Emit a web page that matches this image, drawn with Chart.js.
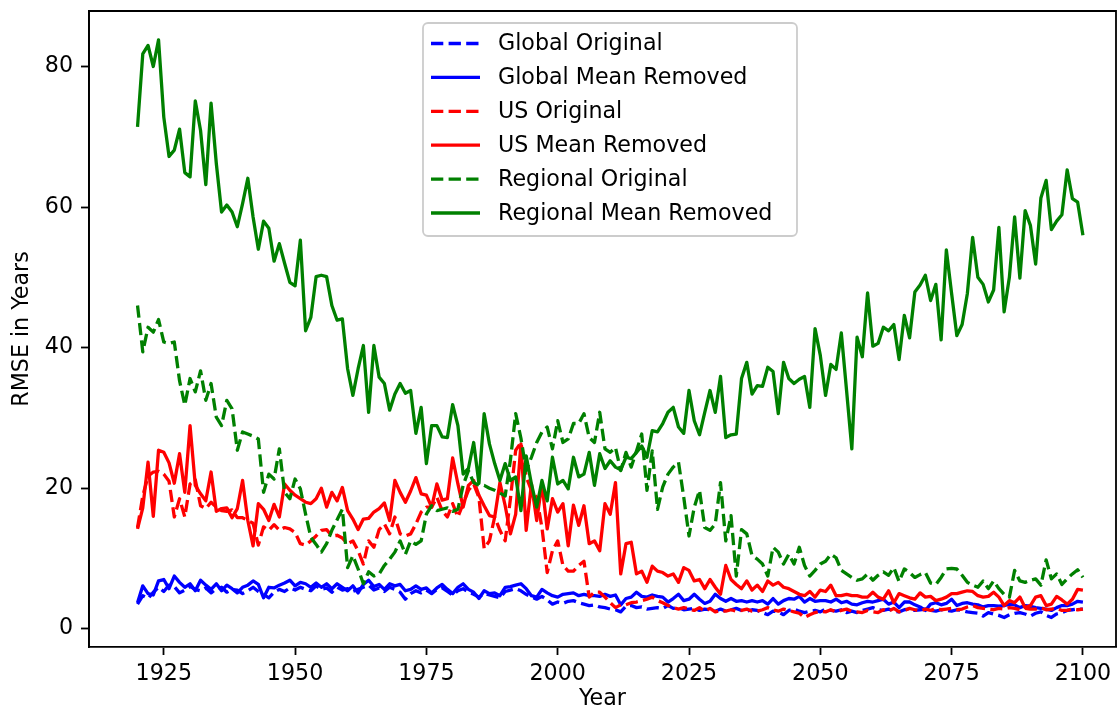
<!DOCTYPE html>
<html>
<head>
<meta charset="utf-8">
<script src="https://cdn.jsdelivr.net/npm/chart.js"></script>
<style>
  html, body { margin: 0; padding: 0; background: #fff; overflow: hidden; }
  canvas { display: block; }
</style>
</head>
<body>
<canvas id="chart" width="1117" height="713"></canvas>
<script>
// yearly values, 1920..2100 (one row per decade)
const years = [];
for (let y = 1920; y <= 2100; y++) years.push(y);

const xTicks = [1925, 1950, 1975, 2000, 2025, 2050, 2075, 2100];
const yTicks = [0, 20, 40, 60, 80];

const globalOriginal = [
  3.5, 4.7, 4.3, 5.2, 5.9, 5.3, 6.2, 6.0, 5.1, 5.5,
  6.0, 5.6, 5.4, 5.8, 5.1, 5.7, 5.9, 5.2, 5.6, 5.5,
  5.0, 5.4, 5.9, 5.3, 4.9, 4.4, 5.2, 5.6, 5.3, 5.8,
  5.5, 5.9, 5.6, 5.4, 6.1, 5.6, 5.8, 5.2, 5.9, 5.5,
  5.7, 5.3, 5.6, 5.9, 6.2, 5.5, 5.8, 5.3, 5.9, 5.6,
  5.2, 4.2, 5.0, 5.4, 5.1, 5.5, 5.0, 5.6, 5.8, 5.3,
  4.8, 5.4, 5.7, 5.2, 4.9, 4.5, 5.0, 4.8, 4.6, 4.4,
  5.3, 5.5, 5.7, 5.4, 4.9, 4.5, 4.2, 4.6, 4.1, 3.5,
  3.8, 3.6, 3.9, 4.0, 3.7, 3.5, 3.3, 3.4, 3.1, 3.0,
  2.8, 2.7, 2.4, 3.2, 3.3, 3.0, 3.1, 2.8, 2.9, 3.0,
  2.9, 3.3, 2.9, 3.0, 2.7, 2.8, 2.9, 2.6, 2.8, 2.7,
  2.5, 2.8, 2.5, 2.7, 2.9, 2.6, 2.5, 2.7, 2.6, 2.3,
  2.0, 2.5, 2.4, 2.0, 2.6, 2.8, 2.5, 2.3, 2.5, 2.6,
  2.4, 2.8, 2.6, 2.5, 2.7, 2.3, 2.5, 2.3, 2.6, 2.8,
  3.0, 2.7, 2.6, 2.8, 2.5, 2.4, 2.7, 2.8, 2.6, 2.7,
  2.8, 2.6, 2.5, 2.7, 2.6, 2.5, 2.7, 2.6, 2.4, 2.3,
  2.2, 1.8, 2.3, 2.1, 1.9, 1.6, 2.0, 2.2, 2.3, 2.1,
  1.8, 2.2, 2.4, 1.9, 1.6, 2.1, 2.3, 2.6, 2.7, 2.8,
  2.8
];

const globalMeanRemoved = [
  3.7, 6.1, 5.0, 4.8, 6.8, 7.0, 5.7, 7.5, 6.6, 5.9,
  6.4, 5.4, 6.9, 6.2, 5.6, 6.4, 5.4, 6.2, 5.7, 5.1,
  5.9, 6.2, 6.8, 6.3, 4.4, 5.9, 5.8, 6.2, 6.5, 6.9,
  6.1, 6.6, 6.4, 5.9, 6.5, 5.9, 6.4, 5.7, 6.4, 5.9,
  5.4, 6.1, 5.1, 6.3, 6.9, 6.0, 6.3, 5.6, 6.4, 6.1,
  6.3, 5.4, 5.6, 6.1, 5.6, 5.8, 5.1, 5.8, 6.3, 5.6,
  5.0, 5.9, 6.4, 5.6, 5.2, 4.3, 5.4, 5.0, 5.1, 4.7,
  5.9, 6.0, 6.2, 6.4, 5.7, 4.7, 4.5, 5.6, 5.1, 4.7,
  4.5, 4.9, 5.0, 5.1, 4.7, 4.9, 4.7, 4.7, 4.6, 4.9,
  4.6, 4.8, 3.4, 4.3, 4.5, 5.2, 4.6, 4.5, 4.8, 4.6,
  4.5, 3.8, 4.3, 4.9, 4.0, 4.2, 4.9, 4.2, 3.6, 3.9,
  4.9, 4.3, 3.9, 4.3, 3.9, 4.0, 3.8, 4.0, 3.8, 4.0,
  3.5, 4.3, 3.5, 4.0, 4.3, 4.2, 4.6, 3.8, 4.3, 3.9,
  4.0, 4.0, 3.8, 4.2, 3.7, 3.9, 3.5, 3.4, 3.7, 3.9,
  3.8, 4.0, 4.2, 3.5, 3.8, 3.0, 3.8, 3.8, 3.4, 3.1,
  2.6, 3.5, 3.7, 3.4, 3.6, 4.2, 3.3, 3.6, 3.7, 3.5,
  3.4, 3.1, 3.3, 3.3, 3.2, 3.3, 3.5, 3.4, 3.0, 3.3,
  3.2, 3.0, 2.9, 2.8, 2.6, 3.0, 3.3, 3.3, 3.5, 3.9,
  3.8
];

const usOriginal = [
  14.4, 18.9, 21.7, 22.3, 22.4, 22.0, 21.0, 15.9, 18.5, 15.9,
  20.6, 21.2, 17.5, 17.1, 18.0, 17.3, 16.8, 16.7, 16.9, 15.8,
  15.8, 15.4, 15.0, 11.9, 14.5, 14.0, 14.8, 14.0, 14.4, 14.2,
  13.7, 12.1, 11.9, 12.5, 13.2, 14.0, 14.1, 13.2, 13.3, 12.9,
  12.1, 12.5, 11.1, 9.2, 12.5, 11.6, 14.1, 14.9, 13.5, 15.9,
  13.5, 13.2, 13.5, 14.9, 16.6, 17.3, 17.3, 18.7, 16.8, 15.9,
  17.8, 15.9, 17.8, 19.7, 20.6, 18.7, 11.4, 12.5, 15.9, 14.0,
  12.5, 18.5, 25.4, 26.5, 21.6, 19.7, 18.7, 14.4, 8.0, 11.1,
  12.5, 9.0, 8.2, 8.2, 9.0, 9.6, 4.5, 5.2, 5.2, 4.5,
  3.7, 3.0, 3.4, 3.4, 3.7, 3.8, 4.0, 4.2, 4.5, 4.0,
  3.7, 3.3, 3.0, 2.8, 3.0, 2.8, 2.6, 3.0, 2.5, 2.9,
  2.4, 2.6, 2.5, 2.7, 2.5, 2.6, 2.8, 2.5, 2.5, 2.7,
  3.0, 2.7, 2.5, 2.8, 2.6, 2.4, 2.2, 1.6, 2.0, 2.3,
  2.5, 2.4, 2.7, 2.4, 2.6, 2.8, 2.5, 2.4, 2.3, 2.6,
  2.4, 2.3, 2.7, 2.5, 2.9, 2.4, 2.6, 2.9, 2.7, 2.5,
  2.8, 2.6, 2.9, 2.7, 2.8, 2.9, 2.7, 2.8, 3.1, 3.3,
  3.0, 2.9, 2.8, 2.7, 2.9, 2.8, 3.0, 2.9, 2.7, 2.9,
  2.8, 2.8, 3.0, 2.7, 2.8, 2.9, 2.6, 2.6, 2.8, 2.7,
  2.8
];

const usMeanRemoved = [
  14.2, 17.2, 23.7, 16.0, 25.4, 25.1, 23.6, 20.7, 24.9, 19.4,
  28.9, 20.4, 19.2, 18.2, 22.3, 16.7, 17.1, 17.2, 15.8, 17.1,
  21.1, 15.4, 11.8, 17.8, 17.0, 15.4, 17.7, 15.9, 20.6, 19.7,
  19.0, 18.5, 18.0, 17.8, 18.5, 20.0, 17.3, 19.4, 18.2, 20.1,
  16.8, 15.6, 14.1, 15.6, 15.7, 16.6, 17.1, 17.9, 15.4, 21.1,
  19.4, 18.0, 19.6, 21.5, 19.2, 19.0, 17.3, 20.6, 18.3, 18.5,
  24.3, 20.6, 17.3, 20.4, 21.1, 19.0, 17.5, 16.1, 15.9, 20.8,
  17.5, 13.5, 16.3, 26.3, 14.0, 20.6, 15.4, 20.6, 14.2, 18.5,
  16.6, 17.8, 11.8, 17.6, 14.7, 17.5, 12.1, 12.5, 11.1, 17.8,
  16.3, 20.8, 7.8, 12.1, 12.3, 7.8, 8.2, 6.6, 8.9, 8.2,
  8.0, 7.5, 7.8, 6.6, 8.7, 8.3, 6.8, 7.0, 5.7, 7.0,
  5.9, 4.9, 9.0, 7.0, 6.3, 5.7, 6.8, 5.5, 6.2, 5.3,
  6.8, 6.2, 6.6, 5.9, 5.7, 5.3, 4.9, 4.7, 5.3, 4.5,
  5.5, 5.3, 6.2, 4.7, 4.7, 4.9, 4.7, 4.7, 4.5, 4.5,
  5.2, 4.5, 4.2, 5.4, 3.7, 5.0, 4.7, 4.4, 4.2, 5.1,
  4.5, 4.6, 4.0, 4.2, 4.5, 5.0, 5.0, 5.2, 5.4, 5.3,
  4.7, 4.5, 4.6, 5.2, 4.5, 3.3, 4.0, 3.7, 4.5, 3.0,
  3.3, 4.5, 4.7, 3.3, 3.5, 4.6, 4.1, 3.5, 4.2, 5.6,
  5.5
];

const regionalOriginal = [
  46.0, 39.4, 42.9, 42.2, 44.0, 40.8, 40.6, 40.8, 35.3, 31.8,
  35.6, 33.7, 36.7, 32.5, 34.9, 30.1, 28.9, 32.5, 31.3, 25.4,
  28.0, 27.7, 27.4, 27.0, 19.4, 22.0, 21.3, 25.6, 19.4, 18.5,
  21.3, 19.9, 16.3, 13.0, 12.0, 10.9, 12.1, 14.0, 15.5, 17.0,
  8.7, 10.4, 8.5, 6.4, 8.1, 7.5, 7.8, 9.0, 9.9, 10.9,
  12.5, 10.6, 12.5, 12.0, 12.5, 16.3, 17.5, 16.8, 17.0, 17.2,
  16.7, 17.0, 20.4, 22.5, 20.8, 20.4, 20.4, 20.0, 19.7, 19.3,
  18.9, 24.0, 30.6, 27.1, 22.5, 24.4, 26.5, 28.0, 28.7, 25.6,
  29.6, 26.5, 27.0, 29.2, 29.2, 30.6, 27.2, 26.5, 30.8, 25.6,
  25.1, 25.8, 22.5, 25.1, 23.0, 25.3, 27.7, 19.7, 25.3, 17.0,
  20.2, 22.0, 23.0, 23.7, 18.7, 13.2, 17.3, 19.7, 14.4, 14.0,
  14.9, 20.8, 12.5, 16.1, 7.5, 14.1, 13.5, 10.4, 9.9, 9.2,
  7.5, 11.6, 10.9, 9.2, 10.6, 9.2, 11.6, 9.0, 7.5, 8.3,
  9.2, 9.6, 10.6, 10.1, 8.3, 7.8, 7.3, 6.9, 7.1, 7.8,
  6.9, 7.6, 8.1, 7.6, 8.7, 6.7, 8.5, 8.0, 7.3, 7.7,
  8.0, 6.5, 6.3, 7.3, 8.5, 8.6, 8.5, 7.6, 6.6, 6.2,
  5.9, 6.8, 5.7, 6.8, 5.7, 4.9, 4.5, 8.3, 6.8, 6.6,
  6.9, 7.1, 6.2, 9.8, 7.1, 7.8, 6.3, 7.1, 7.8, 8.4,
  7.3
];

const regionalMeanRemoved = [
  71.4, 81.8, 83.0, 80.0, 83.8, 72.8, 67.2, 68.1, 71.1, 64.9,
  64.3, 75.1, 70.9, 63.2, 74.8, 66.2, 59.3, 60.3, 59.3, 57.2,
  60.5, 64.1, 58.6, 54.0, 58.0, 57.0, 52.3, 54.8, 52.0, 49.3,
  48.8, 55.3, 42.4, 44.3, 50.1, 50.3, 50.1, 46.0, 43.9, 44.1,
  37.0, 33.2, 37.0, 40.3, 30.8, 40.3, 35.8, 34.9, 31.1, 33.4,
  34.9, 33.5, 33.9, 27.8, 31.5, 23.5, 28.9, 28.9, 27.3, 27.2,
  31.9, 28.9, 22.0, 22.8, 26.5, 20.7, 30.6, 26.3, 23.5, 21.1,
  23.5, 21.1, 21.6, 16.8, 24.6, 20.6, 17.3, 21.1, 18.2, 24.4,
  20.6, 21.1, 19.9, 24.4, 21.6, 22.0, 25.1, 20.4, 24.9, 22.8,
  23.9, 23.0, 22.6, 24.4, 24.2, 25.1, 26.0, 24.4, 28.2, 28.0,
  29.2, 30.8, 31.5, 28.7, 27.8, 33.9, 29.6, 27.6, 30.8, 33.9,
  30.8, 35.9, 27.2, 27.6, 27.7, 35.6, 37.9, 33.4, 34.6, 34.5,
  37.2, 36.6, 30.6, 37.9, 35.6, 34.9, 35.5, 35.9, 31.5, 42.7,
  38.9, 33.2, 37.6, 36.9, 42.1, 33.9, 25.6, 41.5, 38.7, 47.8,
  40.2, 40.6, 42.9, 42.4, 43.3, 38.3, 44.6, 41.4, 47.9, 48.9,
  50.3, 46.7, 49.0, 41.1, 53.9, 47.7, 41.7, 43.3, 47.7, 55.7,
  50.0, 49.0, 46.5, 48.2, 57.1, 45.1, 50.0, 58.6, 49.9, 59.5,
  57.4, 51.9, 61.3, 63.8, 56.8, 58.0, 58.9, 65.3, 61.2, 60.7,
  56.0
];

const FONT = '"DejaVu Sans", sans-serif';
const FONT_SIZE = 22.2;
const LINE_W = 3.3;
const DASH = [12.3, 5.3];

function makeSeries(label, values, color, dashed, order) {
    return {
        label: label,
        data: years.map((yr, i) => ({ x: yr, y: values[i] })),
        borderColor: color,
        backgroundColor: color,
        borderWidth: LINE_W,
        borderDash: dashed ? DASH : [],
        borderJoinStyle: 'round',
        pointRadius: 0,
        fill: false,
        tension: 0,
        order: order
    };
}

const datasets = [
    makeSeries('Global Original', globalOriginal, '#0000ff', true, 6),
    makeSeries('Global Mean Removed', globalMeanRemoved, '#0000ff', false, 5),
    makeSeries('US Original', usOriginal, '#ff0000', true, 4),
    makeSeries('US Mean Removed', usMeanRemoved, '#ff0000', false, 3),
    makeSeries('Regional Original', regionalOriginal, '#008000', true, 2),
    makeSeries('Regional Mean Removed', regionalMeanRemoved, '#008000', false, 1)
];

// matplotlib-like frame around the axes plus an inset legend box
const framePlugin = {
    id: 'frame',
    afterDraw(chart) {
        const { ctx, chartArea: a } = chart;
        ctx.save();
        ctx.strokeStyle = '#000';
        ctx.lineWidth = 1.8;
        ctx.beginPath();
        ctx.moveTo(a.left, a.bottom);
        ctx.lineTo(a.left, a.top);
        ctx.lineTo(a.right, a.top);
        ctx.lineTo(a.right, a.bottom);
        ctx.stroke();

        // legend
        const bx = 423, by = 23, bw = 374, bh = 213, r = 5;
        ctx.beginPath();
        ctx.moveTo(bx + r, by);
        ctx.arcTo(bx + bw, by, bx + bw, by + bh, r);
        ctx.arcTo(bx + bw, by + bh, bx, by + bh, r);
        ctx.arcTo(bx, by + bh, bx, by, r);
        ctx.arcTo(bx, by, bx + bw, by, r);
        ctx.closePath();
        ctx.fillStyle = 'rgba(255,255,255,0.8)';
        ctx.fill();
        ctx.strokeStyle = '#cccccc';
        ctx.lineWidth = 1.8;
        ctx.stroke();

        ctx.font = FONT_SIZE + 'px ' + FONT;
        ctx.textBaseline = 'middle';
        ctx.textAlign = 'left';
        chart.data.datasets.forEach((ds, i) => {
            const cy = by + 20.5 + i * 33.9;
            ctx.strokeStyle = ds.borderColor;
            ctx.lineWidth = LINE_W;
            ctx.setLineDash(ds.borderDash);
            ctx.beginPath();
            ctx.moveTo(431, cy);
            ctx.lineTo(480, cy);
            ctx.stroke();
            ctx.setLineDash([]);
            ctx.fillStyle = '#000';
            ctx.fillText(ds.label, 498, cy + 1);
        });
        ctx.restore();
    }
};

const tickFont = { family: FONT, size: FONT_SIZE };

new Chart(document.getElementById('chart').getContext('2d'), {
    type: 'line',
    data: { datasets: datasets },
    options: {
        responsive: false,
        animation: false,
        devicePixelRatio: 1,
        layout: { padding: { top: 11, right: 1, left: 0, bottom: 0 } },
        plugins: {
            legend: { display: false },
            tooltip: { enabled: false }
        },
        scales: {
            x: {
                type: 'linear',
                min: 1910.76,
                max: 2106.3,
                afterBuildTicks: (axis) => { axis.ticks = xTicks.map(v => ({ value: v })); },
                afterFit: (axis) => {
                    axis.height = 66;
                    axis.paddingLeft = 0;
                    axis.paddingRight = 0;
                },
                ticks: {
                    font: tickFont,
                    color: '#000',
                    padding: 6,
                    maxRotation: 0,
                    autoSkip: false,
                    callback: (v) => String(v)
                },
                grid: { drawOnChartArea: false, drawTicks: true, tickLength: 8, tickColor: '#000', tickWidth: 1.8 },
                border: { display: true, color: '#000', width: 1.8 },
                title: { display: true, text: 'Year', color: '#000', font: tickFont, padding: { top: 0, bottom: 0 } }
            },
            y: {
                type: 'linear',
                min: -2.6,
                max: 87.9,
                afterBuildTicks: (axis) => { axis.ticks = yTicks.map(v => ({ value: v })); },
                afterFit: (axis) => {
                    axis.width = 89;
                    axis.paddingTop = 0;
                    axis.paddingBottom = 0;
                },
                ticks: {
                    font: tickFont,
                    color: '#000',
                    padding: 8,
                    callback: (v) => String(v)
                },
                grid: { drawOnChartArea: false, drawTicks: true, tickLength: 8, tickColor: '#000', tickWidth: 1.8 },
                border: { display: true, color: '#000', width: 1.8 },
                title: { display: true, text: 'RMSE in Years', color: '#000', font: tickFont, padding: { top: 9, bottom: 0 } }
            }
        }
    },
    plugins: [framePlugin]
});
</script>
</body>
</html>
